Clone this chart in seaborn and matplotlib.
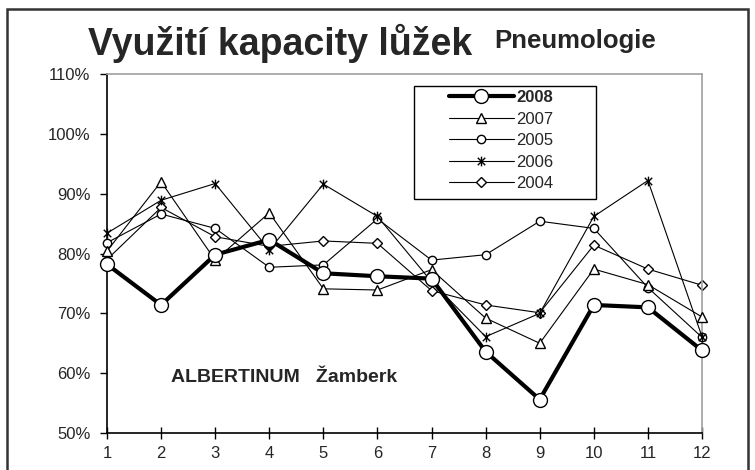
import matplotlib
matplotlib.use("Agg")
import matplotlib.pyplot as plt
import seaborn as sns
from matplotlib.path import Path
from matplotlib.patches import Rectangle
from matplotlib.ticker import FuncFormatter

# data (vyuziti v %)
mesice = list(range(1, 13))
y2008 = [78.2, 71.4, 79.8, 82.3, 76.7, 76.2, 75.8, 63.6, 55.6, 71.4, 71.0, 63.8]
y2007 = [80.4, 92.0, 78.9, 86.8, 74.1, 73.9, 77.3, 69.2, 65.0, 77.4, 74.8, 69.4]
y2005 = [81.8, 86.6, 84.2, 77.7, 78.1, 85.8, 78.9, 79.8, 85.4, 84.2, 74.3, 66.0]
y2006 = [83.4, 88.9, 91.7, 80.6, 91.6, 86.2, 75.3, 66.1, 70.0, 86.2, 92.2, 66.1]
y2004 = [79.0, 87.7, 82.8, 81.2, 82.1, 81.7, 73.8, 71.4, 70.1, 81.4, 77.4, 74.7]

sns.set_style("white")
plt.rcParams['font.family'] = ['Liberation Sans', 'DejaVu Sans']

# hvezdicka jako v Excelu (X + svisla cara)
star = Path([(-1, -1), (1, 1), (-1, 1), (1, -1), (0, -1.3), (0, 1.3)],
            [Path.MOVETO, Path.LINETO, Path.MOVETO, Path.LINETO, Path.MOVETO, Path.LINETO])

fig = plt.figure(figsize=(7.55, 4.70), dpi=100)
ax = fig.add_axes([0.1417, 0.0787, 0.7881, 0.7638])

serie = [
    ("2008", y2008, "o", 10, 3.0, 10),
    ("2007", y2007, "^", 7, 0.8, 5),
    ("2005", y2005, "o", 6, 0.8, 3),
    ("2006", y2006, star, 7, 0.8, 4),
    ("2004", y2004, "D", 5, 0.8, 2),
]
for nazev, vals, mk, ms, lw, z in serie:
    sns.lineplot(x=mesice, y=vals, ax=ax, color="black", lw=lw, marker=mk,
                 markersize=ms, markerfacecolor="white", markeredgecolor="black",
                 markeredgewidth=1.0, label=nazev, zorder=z, clip_on=False)

ax.set_xlim(1, 12)
ax.set_ylim(50, 110)
ax.set_xticks(mesice)
ax.set_yticks(range(50, 111, 10))
ax.yaxis.set_major_formatter(FuncFormatter(lambda v, p: "%d%%" % v))
ax.set_xlabel("")
ax.set_ylabel("")
ax.tick_params(axis="x", direction="inout", length=9, width=1, color="black", labelsize=12, pad=5)
ax.tick_params(axis="y", direction="out", length=5, width=1, color="black", labelsize=12, pad=7)
ax.xaxis.set_ticks_position("bottom")
ax.yaxis.set_ticks_position("left")
for s in ["left", "bottom"]:
    ax.spines[s].set_color("black")
    ax.spines[s].set_linewidth(1.2)
for s in ["top", "right"]:
    ax.spines[s].set_color("#a0a0a0")
    ax.spines[s].set_linewidth(1.2)

# legenda bez ramecku, ramecek zvlast (sirsi okraje jako v Excelu)
leg = ax.legend(loc="upper left", bbox_to_anchor=(0.574, 0.955), frameon=False,
                fontsize=12, handlelength=3.9, handletextpad=0.15,
                labelspacing=0.39, borderpad=0, borderaxespad=0)
leg.get_texts()[0].set_fontweight("bold")
ax.add_patch(Rectangle((0.516, 0.652), 0.306, 0.315, transform=ax.transAxes,
                       fill=False, edgecolor="black", linewidth=1.0, zorder=20))

fig.text(0.371, 0.883, "Využití kapacity lůžek", ha="center", va="baseline",
         fontsize=27, fontweight="bold")
fig.text(0.655, 0.898, "Pneumologie", ha="left", va="baseline", fontsize=18.5, fontweight="bold")
ax.text(2.19, 59.2, "ALBERTINUM   Žamberk", ha="left", va="center", fontsize=14, fontweight="bold")

# ramecek kolem grafu
fig.patches.append(Rectangle((0.009, -0.05), 0.982, 1.03, transform=fig.transFigure,
                             fill=False, edgecolor="#333333", linewidth=1.8))

plt.savefig("out.png", dpi=100)
